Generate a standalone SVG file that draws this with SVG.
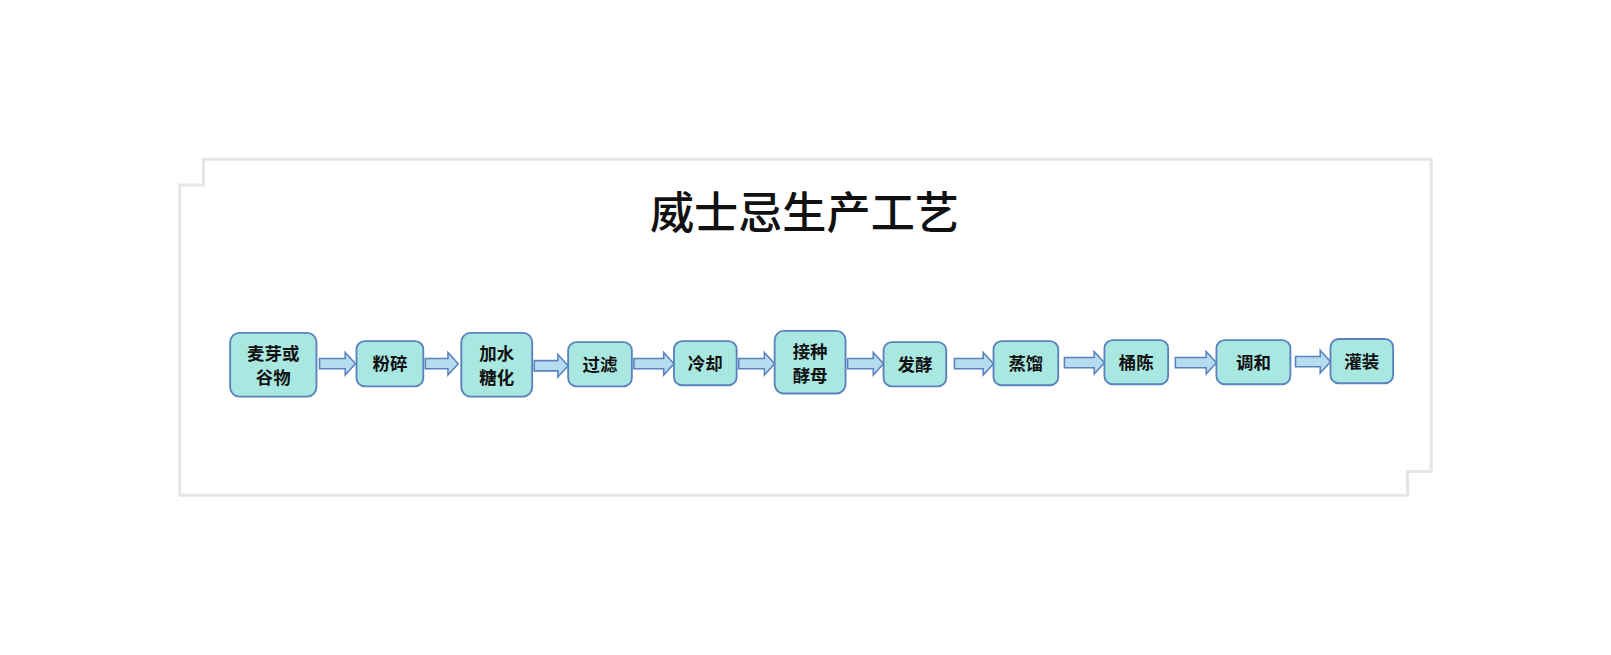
<svg xmlns="http://www.w3.org/2000/svg" width="1611" height="655" viewBox="0 0 1611 655">
<style>
.n rect{fill:#a9e7e1;stroke:#5a82be;stroke-width:1.8}
.n text{font-family:"Noto Sans CJK SC","Liberation Serif",serif;font-weight:bold;font-size:17px;fill:#111;text-anchor:middle}
.a{fill:#b5dcef;stroke:#5a82be;stroke-width:1.5}
</style>
<rect width="1611" height="655" fill="#fff"/>
<g transform="scale(1.0274)">
<path d="M198,155 H1393 V459 H1370 V482 H175 V180 H198 Z" fill="#fff" stroke="#e6e6e6" stroke-width="3"/>
<text x="783" y="223" font-family="Noto Sans CJK SC,sans-serif" font-size="43" font-weight="500" text-anchor="middle" fill="#111">威士忌生产工艺</text>
<g id="connectors">
<path class="a" d="M311,349 h25 v-6 l10,11 l-10,11 v-6 h-25 z"/>
<path class="a" d="M414,349 h22 v-6 l10,11 l-10,11 v-6 h-22 z"/>
<path class="a" d="M520,351 h23 v-6 l10,11 l-10,11 v-6 h-23 z"/>
<path class="a" d="M617,349 h29 v-6 l10,11 l-10,11 v-6 h-29 z"/>
<path class="a" d="M719,349 h25 v-6 l10,11 l-10,11 v-6 h-25 z"/>
<path class="a" d="M825,349 h25 v-6 l10,11 l-10,11 v-6 h-25 z"/>
<path class="a" d="M929,349 h28 v-6 l10,11 l-10,11 v-6 h-28 z"/>
<path class="a" d="M1036,348 h29 v-6 l10,11 l-10,11 v-6 h-29 z"/>
<path class="a" d="M1144,348 h30 v-6 l10,11 l-10,11 v-6 h-30 z"/>
<path class="a" d="M1261,347 h24 v-6 l10,11 l-10,11 v-6 h-24 z"/>
</g>
<g id="n1" class="n"><rect x="224" y="324" width="84" height="62" rx="9"/><text x="266" y="350">麦芽或</text><text x="266" y="374">谷物</text></g>
<g id="n2" class="n"><rect x="347" y="332" width="65" height="44" rx="8"/><text x="379.5" y="360">粉碎</text></g>
<g id="n3" class="n"><rect x="449" y="324" width="69" height="62" rx="9"/><text x="483.5" y="350">加水</text><text x="483.5" y="374">糖化</text></g>
<g id="n4" class="n"><rect x="553" y="333" width="62" height="43" rx="8"/><text x="584" y="361">过滤</text></g>
<g id="n5" class="n"><rect x="656" y="332" width="61" height="43" rx="8"/><text x="686.5" y="360">冷却</text></g>
<g id="n6" class="n"><rect x="754" y="322" width="69" height="61" rx="9"/><text x="788.5" y="348">接种</text><text x="788.5" y="372">酵母</text></g>
<g id="n7" class="n"><rect x="860" y="333" width="61" height="43" rx="8"/><text x="890.5" y="361">发酵</text></g>
<g id="n8" class="n"><rect x="967" y="332" width="63" height="43" rx="8"/><text x="998.5" y="360">蒸馏</text></g>
<g id="n9" class="n"><rect x="1075" y="331" width="62" height="43" rx="8"/><text x="1106" y="359">桶陈</text></g>
<g id="n10" class="n"><rect x="1184" y="331" width="72" height="43" rx="8"/><text x="1220" y="359">调和</text></g>
<g id="n11" class="n"><rect x="1295" y="330" width="61" height="43" rx="8"/><text x="1325.5" y="358">灌装</text></g>
</g>
</svg>
